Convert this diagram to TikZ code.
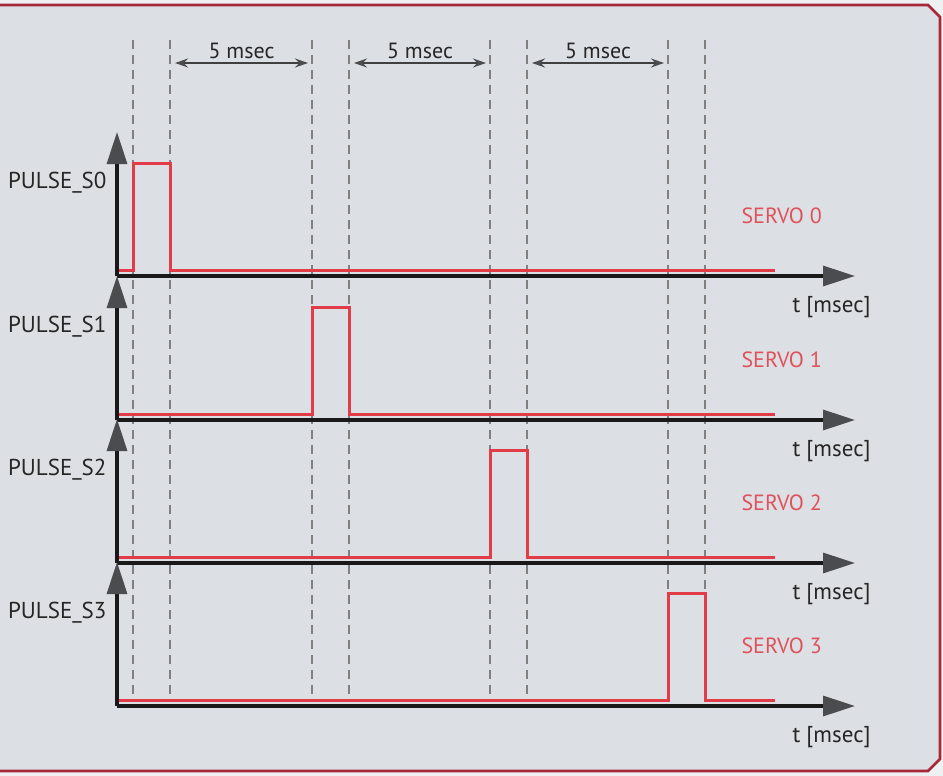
\documentclass[tikz,border=0pt]{standalone}
\usepackage{fontspec}
\setmainfont{PT Sans}
\usepackage{xcolor}
\usetikzlibrary{arrows.meta}
\definecolor{panel}{HTML}{DCDFE4}
\definecolor{outside}{HTML}{EEF0F2}
\definecolor{framered}{HTML}{A8283A}
\definecolor{pulsered}{HTML}{E23C48}
\definecolor{servored}{HTML}{E0525A}
\definecolor{tipgray}{HTML}{4A4C4F}

\begin{document}
\begin{tikzpicture}[x=1pt,y=-1pt,
  axis/.style={line width=3.2pt,black!90,-{Triangle[length=32pt,width=20pt,color=tipgray]}},
  signal/.style={line width=3pt,pulsered,line join=miter},
  guide/.style={black!50,line width=1.3pt,dash pattern=on 9pt off 6pt},
  span/.style={line width=1.4pt,black!75,{Stealth[length=13pt,width=9pt,color=tipgray]}-{Stealth[length=13pt,width=9pt,color=tipgray]}},
  lbl/.style={font=\fontsize{23}{26}\selectfont,text=black!85},
  servolbl/.style={font=\fontsize{22}{26}\selectfont,text=servored}]
\useasboundingbox (0,0) rectangle (943,776);
\fill[outside] (0,0) rectangle (943,776);
\filldraw[fill=panel,draw=framered,line width=2.8pt]
  (-10,5) -- (928,5) -- (940,17) -- (940,759) -- (928,771) -- (-10,771);

% guide lines at the pulse edges
\foreach \xg in {133,170,312,349,490,527,668,705}
  \draw[guide] (\xg,40) -- (\xg,700);

% pulse spacing
\foreach \j/\xl/\xr in {1/175/308, 2/354/486, 3/532/664} {
  \coordinate (sl\j) at (\xl,63);
  \coordinate (sr\j) at (\xr,63);
  \draw[span] (sl\j) -- (sr\j) node[lbl,midway,above=0pt,font=\fontsize{22}{26}\selectfont] (ms\j) {5 msec};
}

% one channel per servo
\foreach \i/\y/\xa in {0/276/133, 1/420/312, 2/563/490, 3/706/668} {
  \pgfmathsetmacro{\yr}{\y-6}
  \pgfmathsetmacro{\yt}{\y-113}
  \pgfmathsetmacro{\xb}{\xa+37}
  \coordinate (o\i) at (117,\y);
  \coordinate (t\i) at (855,\y);
  \coordinate (u\i) at (117,\y-144);
  \draw[signal] (117,\yr) -- (\xa,\yr) -- (\xa,\yt) -- (\xb,\yt) -- (\xb,\yr) -- (775,\yr);
  \draw[axis] (o\i) -- (t\i);
  \draw[axis] (o\i) -- (u\i);
  \node[lbl,anchor=east] (p\i) at (110,\y-93) {PULSE\_S\i};
  \node[servolbl,anchor=west] (s\i) at (738,\y-60) {SERVO \i};
  \node[lbl,anchor=west] (x\i) at (789,\y+31) {t [msec]};
}
\end{tikzpicture}
\end{document}
